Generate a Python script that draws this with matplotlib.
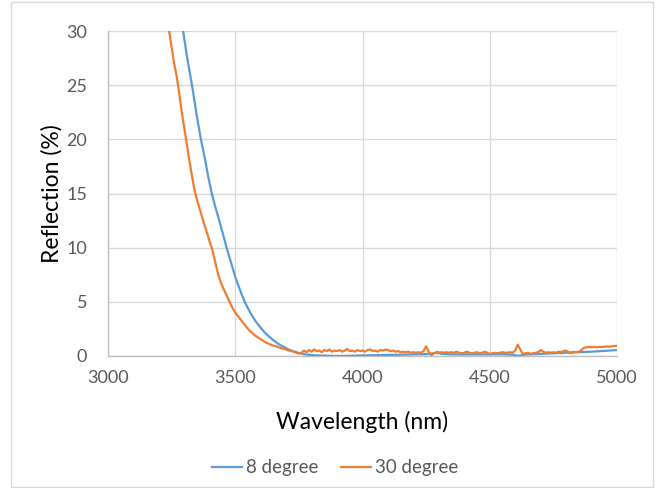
import matplotlib
matplotlib.use("Agg")
import matplotlib.pyplot as plt
from matplotlib.patches import Rectangle
import numpy as np

plt.rcParams['font.family'] = ['Lato', 'DejaVu Sans']

# 8 degree series
wl_8 = [3250, 3280, 3295, 3310, 3330, 3350, 3365, 3380, 3395, 3408, 3420, 3436, 3450,
        3466, 3480, 3500, 3520, 3537, 3560, 3580, 3600, 3617, 3635, 3650, 3670, 3689,
        3705, 3720, 3740, 3755, 3775, 3800, 3850, 3900, 3950, 4000, 4050, 4100, 4150,
        4200, 4250, 4280, 4295, 4310, 4350, 4400, 4450, 4500, 4550, 4590, 4610, 4620,
        4640, 4700, 4750, 4800, 4850, 4900, 4950, 5000]
r_8 = [37.5, 32.5, 30.0, 27.7, 25.0, 22.0, 20.0, 18.3, 16.4, 15.0, 13.9, 12.6, 11.4,
       10.0, 8.9, 7.3, 6.0, 5.0, 3.95, 3.2, 2.6, 2.15, 1.75, 1.45, 1.1, 0.86,
       0.65, 0.5, 0.35, 0.25, 0.15, 0.08, 0.03, 0.0, 0.02, 0.05, 0.08, 0.1, 0.12,
       0.15, 0.17, 0.25, 0.38, 0.2, 0.15, 0.15, 0.15, 0.15, 0.16, 0.12, 0.02, 0.05,
       0.14, 0.2, 0.25, 0.3, 0.35, 0.4, 0.47, 0.55]

# 30 degree series
wl_30 = list(range(3220, 5001, 10))
r_30 = [34.0, 32.0, 30.0, 28.5, 27.0, 25.8, 24.2, 22.5, 21.0, 19.5,
        18.0, 16.6, 15.3, 14.4, 13.6, 12.8, 12.0, 11.3, 10.5, 9.8,
        8.8, 7.8, 7.0, 6.4, 5.9, 5.4, 4.9, 4.4, 4.0, 3.7,
        3.4, 3.1, 2.8, 2.5, 2.25, 2.05, 1.85, 1.7, 1.55, 1.4,
        1.25, 1.15, 1.05, 0.95, 0.9, 0.8, 0.72, 0.68, 0.6, 0.5,
        0.45, 0.4, 0.3, 0.22,
        0.3, 0.5, 0.35, 0.55, 0.4, 0.6, 0.45, 0.5, 0.35, 0.55,
        0.45, 0.6, 0.4, 0.5, 0.45, 0.55, 0.4, 0.5, 0.65, 0.45,
        0.5, 0.4, 0.55, 0.45, 0.5, 0.4, 0.55, 0.6, 0.45, 0.5,
        0.4, 0.55, 0.5, 0.6, 0.55, 0.45, 0.5, 0.4, 0.45, 0.35,
        0.4, 0.35, 0.4, 0.3, 0.35, 0.3, 0.35, 0.3, 0.45, 0.9,
        0.4, 0.05, 0.25, 0.3, 0.25, 0.35, 0.3, 0.35, 0.3, 0.35,
        0.3, 0.4, 0.3, 0.25, 0.3, 0.4, 0.3, 0.25, 0.3, 0.35,
        0.25, 0.3, 0.4, 0.3, 0.2, 0.25, 0.3, 0.25, 0.3, 0.35,
        0.3, 0.3, 0.35, 0.3, 0.5, 1.05, 0.6, 0.2, 0.25, 0.3,
        0.2, 0.25, 0.3, 0.35, 0.55, 0.4, 0.3, 0.35, 0.3, 0.35,
        0.3, 0.4, 0.35, 0.45, 0.5, 0.35, 0.3, 0.4, 0.35, 0.4,
        0.55, 0.75, 0.8, 0.85, 0.8, 0.85, 0.8, 0.85, 0.82, 0.85,
        0.88, 0.85, 0.9, 0.92, 0.95]

series_labels = ["8 degree", "30 degree"]
x_ticks = [3000, 3500, 4000, 4500, 5000]
y_ticks = [0, 5, 10, 15, 20, 25, 30]

W, H = 656, 488
fig = plt.figure(figsize=(W / 100, H / 100), dpi=100)
ax = fig.add_axes([108 / W, 1 - 356 / H, (617 - 108) / W, (356 - 31) / H])

ax.plot(wl_8, r_8, color='#5B9BD5', lw=1.6, label=series_labels[0], zorder=3)
ax.plot(wl_30[:len(r_30)], r_30, color='#ED7D31', lw=1.6, label=series_labels[1], zorder=4)

ax.set_xlim(3000, 5000)
ax.set_ylim(0, 30)
ax.set_xticks(x_ticks)
ax.set_yticks(y_ticks)
ax.grid(True, color='#d9d9d9', lw=1.0, zorder=0)
ax.set_axisbelow(True)
for s in ['top', 'right']:
    ax.spines[s].set_visible(False)
for s in ['left', 'bottom']:
    ax.spines[s].set_color('#bfbfbf')
    ax.spines[s].set_linewidth(1.0)
ax.tick_params(length=0, labelsize=13, labelcolor='#595959')
ax.tick_params(axis='y', pad=15)
ax.tick_params(axis='x', pad=10)
ax.set_xlabel('Wavelength (nm)', fontsize=16.5, color='black', labelpad=18)
ax.set_ylabel('Reflection (%)', fontsize=16.5, color='black', labelpad=3)

leg = fig.legend(loc='center', bbox_to_anchor=(335 / W, 1 - 468 / H), ncol=2,
                 frameon=False, fontsize=13.5, handlelength=1.6, handletextpad=0.2,
                 columnspacing=1.2)
for t in leg.get_texts():
    t.set_color('#595959')

fig.patches.append(Rectangle((11 / W, 1 / H), (653 - 11) / W, (486 - 1) / H,
                             transform=fig.transFigure, fill=False,
                             edgecolor='#d9d9d9', lw=1.0))

fig.savefig('out.png', dpi=100)
